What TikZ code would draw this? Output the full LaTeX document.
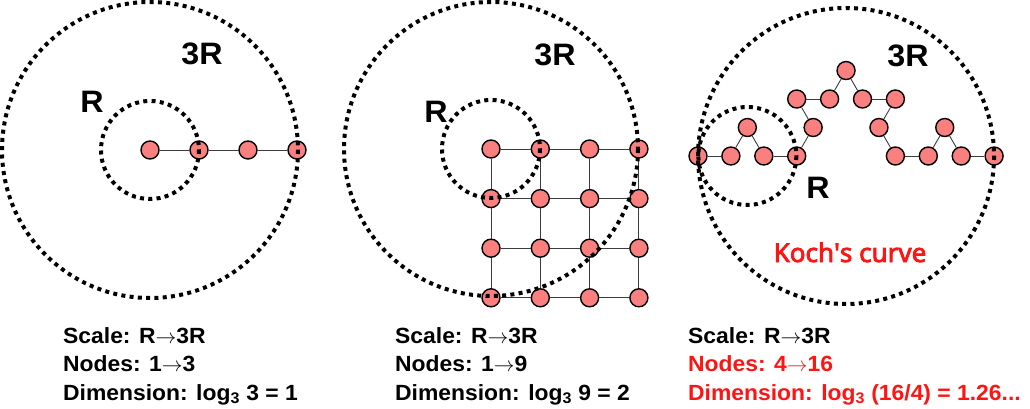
\documentclass[tikz,border=0pt]{standalone}
\usepackage{fontspec}
\usetikzlibrary{calc}
\newfontfamily\lblfont[FakeStretch=1.04]{Liberation Sans}
\newfontfamily\kochfont[FakeBold=3]{Noto Sans}
\definecolor{NodePink}{RGB}{250,128,128}
\definecolor{EdgeGray}{RGB}{60,60,60}
\definecolor{KochRed}{RGB}{255,20,20}

\tikzset{
  pnode/.style={circle, draw, line width=1.4pt, fill=NodePink, minimum size=18pt, inner sep=0pt},
  link/.style={draw=EdgeGray, line width=0.9pt},
  ring/.style={line width=4pt, dash pattern=on 4pt off 4.3pt},
  bigtxt/.style={font=\lblfont\bfseries\fontsize{31}{31}\selectfont, inner sep=0pt},
  captxt/.style={font=\lblfont\bfseries\fontsize{22}{22}\selectfont, anchor=base west, inner sep=0pt},
}

\begin{document}
\begin{tikzpicture}[x=1pt, y=-1pt]
  \useasboundingbox (0,0) rectangle (1030,409);

  % Panel 1: a line of nodes
  \foreach \i in {0,...,3}
    \node[pnode] (a\i) at ({150+49*\i},150) {};
  \foreach \i [count=\j] in {0,1,2}
    \draw[link] (a\i) -- (a\j);
  \draw[ring] (a0.center) circle (49);
  \draw[ring] (a0.center) circle (148);
  \node[bigtxt] (r1) at (92,102) {R};
  \node[bigtxt] (rr1) at (202,54) {3R};

  \node[captxt] (s1) at (63,343) {Scale: R$\rightarrow$3R};
  \node[captxt] (n1) at (63,371) {Nodes: 1$\rightarrow$3};
  \node[captxt] (d1) at (63,400) {Dimension: log\textsubscript{3} 3 = 1};

  % Panel 2: a square grid
  \foreach \r in {0,...,3}
    \foreach \c in {0,...,3}
      \node[pnode] (g\r\c) at ({491+49.3*\c},{149+49.6*\r}) {};
  \foreach \r in {0,...,3}
    \foreach \c [count=\n] in {0,1,2} {
      \draw[link] (g\r\c) -- (g\r\n);
      \draw[link] (g\c\r) -- (g\n\r);
    }
  \draw[ring] (g00.center) circle (49);
  \draw[ring] (g00.center) circle (147);
  \node[bigtxt] (r2) at (436,112) {R};
  \node[bigtxt] (rr2) at (555,55) {3R};

  \node[captxt] (s2) at (395,343) {Scale: R$\rightarrow$3R};
  \node[captxt] (n2) at (395,371) {Nodes: 1$\rightarrow$9};
  \node[captxt] (d2) at (395,400) {Dimension: log\textsubscript{3} 9 = 2};

  % Panel 3: Koch curve, second step
  \node[pnode] (k1) at (698,156) {};
  \foreach \a [count=\i] in {0,-60,60,0, -60,-120,0,-60, 60,0,120,60, 0,-60,60,0} {
    \pgfmathtruncatemacro\j{\i+1}
    \node[pnode] (k\j) at ($(k\i.center)+(\a:32.9)$) {};
    \draw[link] (k\i) -- (k\j);
  }
  \draw[ring] ($(k1)!0.5!(k5)$) circle (49);
  \draw[ring] ($(k1)!0.5!(k17)$) circle (148);
  \node[bigtxt] (r3) at (818,188) {R};
  \node[bigtxt] (rr3) at (908,56) {3R};
  \node[font=\kochfont\fontsize{26}{26}\selectfont, text=KochRed, anchor=base, inner sep=0pt] (kc) at (850,262) {Koch\textquotesingle s curve};

  \node[captxt] (s3) at (688,343) {Scale: R$\rightarrow$3R};
  \node[captxt, text=KochRed] (n3) at (688,371) {Nodes: 4$\rightarrow$16};
  \node[captxt, text=KochRed] (d3) at (688,400) {Dimension: log\textsubscript{3} (16/4) = 1.26...};
\end{tikzpicture}
\end{document}
